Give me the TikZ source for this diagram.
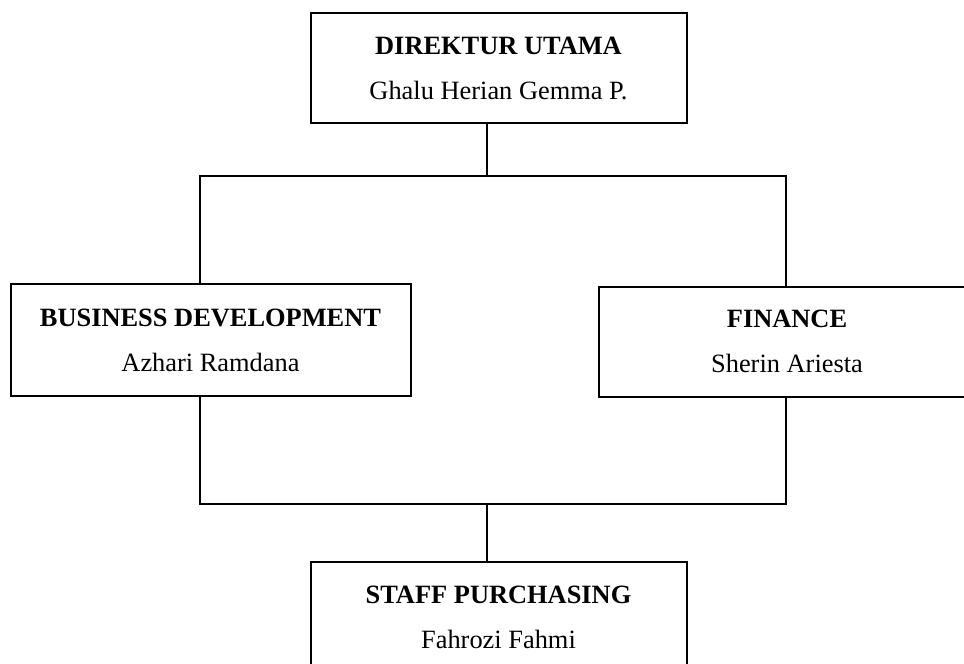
\documentclass[tikz,border=0pt]{standalone}
\usepackage{fontspec}
\setmainfont{Liberation Serif}
\tikzstyle{org chart}=[
    x=0.5pt,y=-0.5pt,line width=1pt,
    every node/.style={
        font=\fontsize{13.2}{22.5}\selectfont,
}]
\tikzstyle{org box}=[draw,align=center,minimum width=188pt,minimum height=55pt,inner sep=0pt]
\newcommand{\boxlabel}[2]{\textbf{#1}\\#2}

\begin{document}
\begin{tikzpicture}[org chart]
        \clip (0,0) rectangle (964,664);
        \node[org box] (dirut) at (498.5,68) {\boxlabel{DIREKTUR UTAMA}{Ghalu Herian Gemma P.}};
        \node[org box, minimum width=200pt, minimum height=56pt] (bisdev) at (210.5,340) {\boxlabel{BUSINESS DEVELOPMENT}{Azhari Ramdana}};
        \node[org box] (finance) at (787,341.5) {\boxlabel{FINANCE}{Sherin Ariesta}};
        \node[org box] (staff) at (498.5,617) {\boxlabel{STAFF PURCHASING}{Fahrozi Fahmi}};

        \coordinate (tl) at (200,176);
        \coordinate (tm) at (487,176);
        \coordinate (tr) at (786,176);
        \coordinate (bl) at (200,504);
        \coordinate (bm) at (487,504);
        \coordinate (br) at (786,504);

        \draw (tm |- dirut.south) -- (tm);
        \draw (bisdev.north -| tl) -- (tl) -- (tr) -- (tr |- finance.north);
        \draw (bisdev.south -| bl) -- (bl) -- (br) -- (br |- finance.south);
        \draw (bm) -- (bm |- staff.north);
    \end{tikzpicture}
\end{document}
